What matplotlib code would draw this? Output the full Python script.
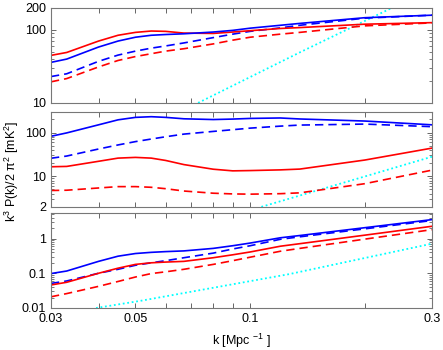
import matplotlib
matplotlib.use('Agg')
import matplotlib.pyplot as plt
from matplotlib.ticker import FixedLocator, LogLocator, NullFormatter

plt.rcParams['font.family'] = ['Liberation Sans', 'DejaVu Sans']
plt.rcParams['mathtext.default'] = 'regular'
plt.rcParams['font.size'] = 8.5

# wavenumbers shared by all signal curves
k = [0.03, 0.033, 0.04, 0.045, 0.05, 0.055, 0.06, 0.067, 0.08, 0.09, 0.1, 0.12, 0.135, 0.2, 0.3]

# top panel
top_red = [44.6, 48.9, 70, 84, 92, 96, 95, 90, 89, 93, 97, 104, 107, 119, 125]
top_blue = [35.8, 39.7, 58, 70, 79, 84, 86, 88, 93, 98, 105, 115, 122, 146, 158]
top_blue_d = [22.9, 25, 37, 45, 51, 56, 60, 66, 78, 87, 95, 106, 115, 144, 158]
top_red_d = [19.4, 21.5, 31, 38, 43, 47, 51, 55, 64, 72, 79, 87, 92, 113, 124]
top_noise_k = [0.073, 0.135, 0.236, 0.3]
top_noise = [10, 49, 200, 370]

# middle panel
mid_blue = [82, 98, 150, 195, 222, 230, 222, 206, 198, 203, 210, 215, 204, 183, 150]
mid_blue_d = [25.8, 29, 42, 52, 62, 71, 80, 92, 106, 116, 126, 140, 148, 156, 136]
mid_red = [16.5, 16.8, 22, 26, 27, 26, 23, 18.5, 14.5, 13.3, 13.5, 14, 14.6, 23.5, 44]
mid_red_d = [4.73, 4.8, 5.4, 5.8, 5.8, 5.6, 5.2, 4.6, 4.1, 3.95, 3.9, 4.0, 4.18, 6.77, 13.8]
mid_noise_k = [0.107, 0.2, 0.3]
mid_noise = [2, 9.9, 28]

# bottom panel
bot_blue = [0.098, 0.116, 0.22, 0.31, 0.37, 0.40, 0.42, 0.44, 0.52, 0.62, 0.74, 1.05, 1.22, 2.05, 3.5]
bot_blue_d = [0.051, 0.06, 0.1, 0.13, 0.17, 0.2, 0.23, 0.28, 0.38, 0.5, 0.62, 0.95, 1.12, 1.9, 3.3]
bot_red = [0.046, 0.055, 0.1, 0.14, 0.18, 0.2, 0.21, 0.22, 0.28, 0.34, 0.41, 0.6, 0.71, 1.25, 2.25]
bot_red_d = [0.021, 0.026, 0.042, 0.058, 0.078, 0.098, 0.11, 0.13, 0.18, 0.23, 0.29, 0.43, 0.52, 0.96, 1.8]
bot_noise_k = [0.0394, 0.0514, 0.127, 0.3]
bot_noise = [0.01, 0.016, 0.095, 0.71]

xticks = [0.03, 0.04, 0.05, 0.06, 0.07, 0.08, 0.09, 0.1, 0.2, 0.3]
xlabels = ['0.03', '', '0.05', '', '', '', '', '0.1', '', '0.3']

panels = [
    (top_red, top_blue, top_blue_d, top_red_d, top_noise_k, top_noise, (10, 200), [10, 100, 200], ['10', '100', '200']),
    (mid_red, mid_blue, mid_blue_d, mid_red_d, mid_noise_k, mid_noise, (2, 300), [2, 10, 100], ['2', '10', '100']),
    (bot_red, bot_blue, bot_blue_d, bot_red_d, bot_noise_k, bot_noise, (0.01, 5.5), [0.01, 0.1, 1], ['0.01', '0.1', '1']),
]
boxes = [0.706, 0.409, 0.12]

fig = plt.figure(figsize=(4.43, 3.5), dpi=100)
for (red, blue, blue_d, red_d, nk, nv, ylim, yt, ytl), b in zip(panels, boxes):
    ax = fig.add_axes([0.115, b, 0.86, 0.272])
    ax.plot(nk, nv, color='cyan', ls=(0, (1, 1.5)), lw=1.3)
    ax.plot(k, red_d, color='red', ls=(0, (5, 3)), lw=1.2)
    ax.plot(k, blue_d, color='blue', ls=(0, (5, 3)), lw=1.2)
    ax.plot(k, red, color='red', lw=1.2)
    ax.plot(k, blue, color='blue', lw=1.2)
    ax.set_xscale('log'); ax.set_yscale('log')
    ax.set_xlim(0.03, 0.3); ax.set_ylim(*ylim)
    ax.xaxis.set_major_locator(FixedLocator(xticks))
    ax.xaxis.set_minor_locator(FixedLocator([]))
    ax.set_xticklabels(xlabels if b == boxes[-1] else [''] * len(xticks))
    ax.yaxis.set_major_locator(FixedLocator(yt))
    ax.set_yticklabels(ytl)
    ax.yaxis.set_minor_locator(LogLocator(base=10, subs=range(2, 10)))
    ax.yaxis.set_minor_formatter(NullFormatter())
    ax.tick_params(which='both', direction='in', top=True, right=True, color='#666666', labelsize=9)
    ax.tick_params(which='major', length=3.5, width=0.7)
    ax.tick_params(which='minor', length=2, width=0.6)
    for s in ax.spines.values():
        s.set_color('#777777'); s.set_linewidth(0.8)

fig.text(0.027, 0.51, 'k$^3$ P(k)/2 $\\pi^2$ [mK$^2$]', rotation=90, ha='center', va='center', fontsize=9)
fig.text(0.545, 0.025, 'k [Mpc $^{-1}$ ]', ha='center', va='center', fontsize=9)
fig.savefig('out.png', dpi=100)
